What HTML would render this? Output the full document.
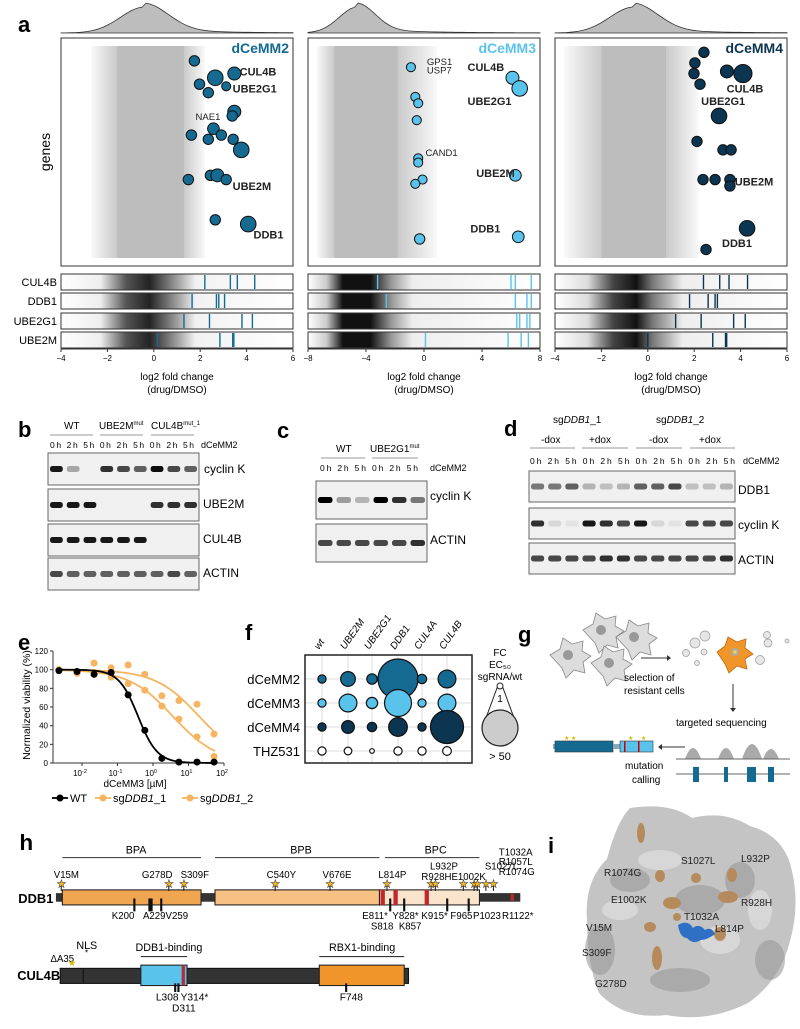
<!DOCTYPE html>
<html><head><meta charset="utf-8"><style>
body{margin:0;background:#fff;width:800px;height:1024px;overflow:hidden;font-family:"Liberation Sans",Arial,sans-serif}
svg text{font-family:"Liberation Sans",Arial,sans-serif}
</style></head><body>
<svg id="fig" width="800" height="1024" viewBox="0 0 800 1024" xmlns="http://www.w3.org/2000/svg">
<defs>
<linearGradient id="bc1" x1="0" x2="1"><stop offset="0" stop-color="#fff"/><stop offset=".17" stop-color="#eee"/><stop offset=".28" stop-color="#555"/><stop offset=".38" stop-color="#222"/><stop offset=".48" stop-color="#888"/><stop offset=".58" stop-color="#f2f2f2"/><stop offset="1" stop-color="#fff"/></linearGradient>
<linearGradient id="bc2" x1="0" x2="1"><stop offset="0" stop-color="#fff"/><stop offset=".08" stop-color="#ccc"/><stop offset=".15" stop-color="#111"/><stop offset=".27" stop-color="#111"/><stop offset=".36" stop-color="#999"/><stop offset=".45" stop-color="#eee"/><stop offset="1" stop-color="#fff"/></linearGradient>
<linearGradient id="bc3" x1="0" x2="1"><stop offset="0" stop-color="#fff"/><stop offset=".14" stop-color="#ddd"/><stop offset=".25" stop-color="#444"/><stop offset=".35" stop-color="#111"/><stop offset=".42" stop-color="#777"/><stop offset=".55" stop-color="#eee"/><stop offset="1" stop-color="#fff"/></linearGradient>
<linearGradient id="cloudL" x1="0" x2="1"><stop offset="0" stop-color="#c4c4c4" stop-opacity="0.1"/><stop offset="1" stop-color="#c4c4c4" stop-opacity="0.9"/></linearGradient>
<linearGradient id="cloudR" x1="0" x2="1"><stop offset="0" stop-color="#c4c4c4" stop-opacity="0.9"/><stop offset="1" stop-color="#c4c4c4" stop-opacity="0.1"/></linearGradient>
</defs>
<g id="panelA"></g>
<text x="18" y="32" font-size="22" font-weight="bold">a</text>

<g>
<text x="18" y="437" font-size="22" font-weight="bold">b</text>
<text x="64" y="429" font-size="10">WT</text><text x="99" y="429" font-size="10">UBE2M<tspan font-size="6" dy="-4">mut</tspan></text><text x="151" y="429" font-size="10">CUL4B<tspan font-size="6" dy="-4">mut_1</tspan></text>
<line x1="50" y1="435" x2="93" y2="435" stroke="#999"/><line x1="100" y1="435" x2="143" y2="435" stroke="#999"/><line x1="151" y1="435" x2="194" y2="435" stroke="#999"/>
<text x="50" y="448" font-size="8.5" textLength="144">0h 2h 5h 0h 2h 5h 0h 2h 5h</text><text x="201" y="448" font-size="9">dCeMM2</text>
<g id="blotB"></g>
<text x="204" y="473" font-size="12">cyclin K</text><text x="203" y="508" font-size="12">UBE2M</text><text x="203" y="543" font-size="12">CUL4B</text><text x="203" y="577" font-size="12">ACTIN</text>
</g>
<g>
<text x="277" y="438" font-size="22" font-weight="bold">c</text>
<text x="336" y="452" font-size="10">WT</text><text x="370" y="452" font-size="10">UBE2G1<tspan font-size="6" dy="-4">mut</tspan></text>
<line x1="321" y1="458" x2="365" y2="458" stroke="#999"/><line x1="372" y1="458" x2="418" y2="458" stroke="#999"/>
<text x="320" y="471" font-size="8.5" textLength="98">0h 2h 5h 0h 2h 5h</text><text x="430" y="471" font-size="9">dCeMM2</text>
<g id="blotC"></g>
<text x="430" y="500" font-size="12">cyclin K</text><text x="430" y="544" font-size="12">ACTIN</text>
</g>
<g>
<text x="504" y="436" font-size="22" font-weight="bold">d</text>
<text x="553" y="423" font-size="10">sg<tspan font-style="italic">DDB1</tspan>_1</text><text x="656" y="423" font-size="10">sg<tspan font-style="italic">DDB1</tspan>_2</text>
<text x="541" y="443" font-size="10">-dox</text><text x="589" y="443" font-size="10">+dox</text><text x="649" y="443" font-size="10">-dox</text><text x="699" y="443" font-size="10">+dox</text>
<line x1="530" y1="448" x2="575" y2="448" stroke="#999"/><line x1="582" y1="448" x2="628" y2="448" stroke="#999"/><line x1="636" y1="448" x2="682" y2="448" stroke="#999"/><line x1="690" y1="448" x2="735" y2="448" stroke="#999"/>
<text x="530" y="464" font-size="8.5" textLength="205">0h 2h 5h 0h 2h 5h 0h 2h 5h 0h 2h 5h</text><text x="743" y="464" font-size="9">dCeMM2</text>
<g id="blotD"></g>
<text x="738" y="494" font-size="12">DDB1</text><text x="738" y="529" font-size="12">cyclin K</text><text x="738" y="564" font-size="12">ACTIN</text>
</g>
<g id="panelE">
<text x="18" y="650" font-size="22" font-weight="bold">e</text>
</g>
<g id="panelF">
<text x="245" y="640" font-size="22" font-weight="bold">f</text>
</g>
<g>
<text x="518" y="642" font-size="22" font-weight="bold">g</text>
<g fill="#ddd" stroke="#888" stroke-width="0.8">
<path d="M550,655 l10,-6 l3,-11 l9,6 l11,-3 l-1,10 l9,5 l-8,6 l2,11 l-11,-3 l-8,8 l-4,-10 z"/>
<path d="M583,630 l10,-6 l3,-11 l9,6 l11,-3 l-1,10 l9,5 l-8,6 l2,11 l-11,-3 l-8,8 l-4,-10 z"/>
<path d="M616,637 l10,-6 l3,-11 l9,6 l11,-3 l-1,10 l9,5 l-8,6 l2,11 l-11,-3 l-8,8 l-4,-10 z"/>
<path d="M591,663 l10,-6 l3,-11 l9,6 l11,-3 l-1,10 l9,5 l-8,6 l2,11 l-11,-3 l-8,8 l-4,-10 z"/>
</g>
<g fill="#999"><circle cx="568" cy="655" r="5"/><circle cx="601" cy="630" r="5"/><circle cx="634" cy="637" r="5"/><circle cx="609" cy="663" r="5"/></g>
<line x1="641" y1="658" x2="667" y2="658" stroke="#333"/><path d="M667,655 l4,3 l-4,3z" fill="#333"/>
<g fill="#e6e6e6" stroke="#999" stroke-width=".7"><circle cx="695" cy="643" r="5"/><circle cx="705" cy="636" r="5"/><circle cx="686" cy="653" r="3.5"/><circle cx="704" cy="652" r="3"/><circle cx="697" cy="663" r="2.5"/><circle cx="760" cy="660" r="4.5"/><circle cx="768" cy="643" r="4"/><circle cx="767" cy="635" r="3.5"/><circle cx="787" cy="641" r="2"/></g>
<path d="M717,652 l8,-6 l3,-9 l9,5 l9,-3 l-1,9 l8,6 l-8,5 l2,10 l-10,-3 l-8,7 l-4,-9 z" fill="#f0952a" stroke="#c06a10" stroke-width=".8"/>
<circle cx="735" cy="652" r="4" fill="#aaa"/><circle cx="735" cy="652" r="1.7" fill="#f6d43c"/>
<text x="624" y="681" font-size="10">selection of</text><text x="624" y="694" font-size="10">resistant cells</text>
<line x1="733" y1="684" x2="733" y2="708" stroke="#333"/><path d="M730,708 l3,4 l3,-4z" fill="#333"/>
<text x="676" y="726" font-size="10">targeted sequencing</text>
<g fill="#aaa"><path d="M685,759 q8,-22 16,0z"/><path d="M718,759 q8,-22 16,0z"/><path d="M742,759 q10,-30 20,0z"/><path d="M763,759 q8,-20 16,0z"/></g>
<line x1="676" y1="759" x2="790" y2="759" stroke="#666"/>
<line x1="676" y1="774" x2="790" y2="774" stroke="#666"/>
<g fill="#156a92"><rect x="693" y="767" width="6" height="15"/><rect x="724" y="767" width="4" height="15"/><rect x="747" y="767" width="9" height="15"/><rect x="768" y="767" width="6" height="15"/></g>
<line x1="685" y1="747" x2="662" y2="747" stroke="#333"/><path d="M662,744 l-4,3 l4,3z" fill="#333"/>
<rect x="553" y="744" width="3" height="5" fill="#8ab"/>
<rect x="555" y="741" width="58" height="11" fill="#156a92" stroke="#333" stroke-width=".6"/>
<rect x="613" y="744" width="7" height="5" fill="#8ab"/>
<rect x="620" y="741" width="33" height="11" fill="#5ac3ec" stroke="#333" stroke-width=".6"/>
<rect x="624" y="741" width="1.5" height="11" fill="#c00"/><rect x="638" y="741" width="1.5" height="11" fill="#c00"/>
<text x="564" y="740" font-size="6" fill="#d8b800">★ ★</text><text x="628" y="740" font-size="6" fill="#d8b800">★</text><text x="641" y="740" font-size="6" fill="#d8b800">★</text>
<text x="625" y="769" font-size="10">mutation</text><text x="632" y="783" font-size="10">calling</text>
</g>
<g id="panelH" transform="matrix(1.075,0,0,1.075,0,-61.5)">
<text x="18" y="848" font-size="21" font-weight="bold">h</text>
<line x1="58" y1="855" x2="187" y2="855" stroke="#333"/><line x1="200" y1="855" x2="353" y2="855" stroke="#333"/><line x1="358" y1="855" x2="446" y2="855" stroke="#333"/>
<text x="117" y="851" font-size="10">BPA</text><text x="270" y="851" font-size="10">BPB</text><text x="395" y="851" font-size="10">BPC</text>
<rect x="52" y="888" width="432" height="8" fill="#333"/>
<rect x="58" y="885" width="129" height="14" fill="#f0a650" stroke="#222"/>
<rect x="200" y="885" width="153" height="14" fill="#f6c182" stroke="#222"/>
<rect x="353" y="885" width="93" height="14" fill="#fbe4cc" stroke="#222"/>
<g fill="#c0282d"><rect x="354" y="885" width="4" height="14"/><rect x="366" y="885" width="4" height="14"/><rect x="395" y="885" width="4" height="14"/><rect x="475" y="889" width="3" height="6"/></g>
<text x="17" y="897" font-size="12" font-weight="bold">DDB1</text>
<g id="ddbStars"></g>
<g font-size="9">
<text x="50" y="874">V15M</text><text x="132" y="874">G278D</text><text x="168" y="874">S309F</text><text x="248" y="874">C540Y</text><text x="300" y="874">V676E</text><text x="352" y="874">L814P</text>
<text x="400" y="866">L932P</text><text x="392" y="876">R928HE1002K</text><text x="451" y="866">S1027L</text>
<text x="464" y="853">T1032A</text><text x="464" y="862">R1057L</text><text x="464" y="871">R1074G</text>
<text x="104" y="912">K200</text><text x="133" y="912">A229</text><text x="154" y="912">V259</text>
<text x="337" y="912">E811*</text><text x="365" y="912">Y828*</text><text x="392" y="912">K915*</text><text x="419" y="912">F965</text><text x="440" y="912">P1023</text><text x="467" y="912">R1122*</text>
<text x="345" y="922">S818</text><text x="371" y="922">K857</text>
</g>
<line x1="131" y1="947" x2="174" y2="947" stroke="#333"/><line x1="297" y1="947" x2="376" y2="947" stroke="#333"/>
<text x="71" y="940" font-size="10">NLS</text><text x="79" y="946" font-size="8">*</text><text x="126" y="942" font-size="10">DDB1-binding</text><text x="306" y="942" font-size="10">RBX1-binding</text>
<text x="47" y="952" font-size="9">ΔA35</text>
<rect x="56" y="958" width="324" height="14" fill="#333" stroke="#111"/>
<rect x="77" y="958" width="1" height="14" fill="#111"/>
<rect x="131" y="955" width="43" height="19" fill="#5ac3ec" stroke="#222"/><rect x="169" y="955" width="3" height="19" fill="#c0282d"/>
<rect x="297" y="955" width="79" height="19" fill="#f0952a" stroke="#222"/>
<text x="63" y="956" font-size="9" fill="#d8b800">★</text>
<rect x="162" y="972" width="2" height="8" fill="#111"/><rect x="165" y="972" width="2" height="8" fill="#111"/><rect x="321" y="972" width="2" height="8" fill="#111"/>
<text x="145" y="988" font-size="9.5">L308</text><text x="168" y="988" font-size="9.5">Y314*</text><text x="160" y="998" font-size="9.5">D311</text><text x="316" y="988" font-size="9.5">F748</text>
<text x="16" y="969" font-size="12" font-weight="bold">CUL4B</text>
</g>
<g>
<path d="M630,808 q40,-6 62,10 q32,-8 58,8 q35,10 42,45 q8,35 -2,70 q-10,40 -42,62 q-40,20 -82,12 q-42,5 -67,-22 q-12,-30 -12,-72 q-3,-40 20,-62 q10,-38 23,-51z" fill="#c4c4c4"/>
<g fill="#9a9a9a" opacity=".6"><ellipse cx="630" cy="880" rx="20" ry="12"/><ellipse cx="700" cy="900" rx="25" ry="15"/><ellipse cx="600" cy="950" rx="15" ry="25"/><ellipse cx="740" cy="880" rx="15" ry="18"/><ellipse cx="680" cy="980" rx="30" ry="12"/><ellipse cx="770" cy="960" rx="15" ry="20"/></g>
<g fill="#dcdcdc" opacity=".8"><ellipse cx="660" cy="860" rx="22" ry="10"/><ellipse cx="620" cy="910" rx="18" ry="10"/><ellipse cx="720" cy="940" rx="20" ry="14"/><ellipse cx="760" cy="910" rx="12" ry="20"/></g>
<g fill="#b58a5c"><ellipse cx="641" cy="833" rx="4" ry="10"/><ellipse cx="660" cy="876" rx="5" ry="6"/><ellipse cx="696" cy="878" rx="5" ry="5"/><ellipse cx="732" cy="875" rx="5" ry="7"/><ellipse cx="728" cy="897" rx="10" ry="6"/><ellipse cx="672" cy="903" rx="9" ry="6"/><ellipse cx="677" cy="917" rx="4" ry="4"/><ellipse cx="650" cy="927" rx="6" ry="5"/><ellipse cx="657" cy="958" rx="5" ry="12"/><ellipse cx="720" cy="934" rx="6" ry="7"/></g>
<path d="M678,925 q10,-6 15,3 q6,-5 12,2 q6,-4 10,4 q-8,6 -14,6 q-8,5 -14,-2 q-7,0 -9,-13z" fill="#2f6fc4"/>
<g font-size="10" fill="#222">
<text x="604" y="876">R1074G</text><text x="681" y="864">S1027L</text><text x="741" y="862">L932P</text>
<text x="611" y="903">E1002K</text><text x="684" y="920">T1032A</text><text x="741" y="906">R928H</text>
<text x="586" y="931">V15M</text><text x="715" y="932">L814P</text><text x="582" y="956">S309F</text><text x="595" y="987">G278D</text>
</g>
<text x="548" y="853" font-size="22" font-weight="bold">i</text>
</g>
</svg>
<script>
var aTitles=["dCeMM2","dCeMM3","dCeMM4"];
var aColors=["#156a92","#5ac3ec","#0b3550"];
var aDomains=[[-4,6],[-8,8],[-4,6]];
var aTicks=[[-4,-2,0,2,4,6],[-8,-4,0,4,8],[-4,-2,0,2,4,6]];
var aDensityPeak=[-0.4,-4.6,-0.6];
var aCloudCore=[[-1.6,1.3],[-6.2,-1.8],[-2.0,0.8]];
var aCloudSpread=[[-2.7,2.2],[-7.4,0.9],[-3.6,2.2]];
var hitLfc1=[1.75,2.65,3.47,1.97,3.12,2.35,3.47,3.38,2.57,2.91,1.62,2.35,3.42,3.77,2.44,2.74,3.12,1.49,2.65,4.07];
var hitRank1=[.07,.15,.13,.18,.19,.22,.31,.33,.39,.42,.42,.44,.44,.49,.61,.61,.63,.63,.82,.84];
var hitSize1=[4,6,5,4,3.5,4,5,4,4.5,4,4,4,4,6,4,5,4,4,4,6];
var hitLfc2=[-0.9,6.1,6.6,-0.6,-0.4,-0.5,-0.4,-0.4,-0.1,-0.6,6.3,6.5,-0.3];
var hitRank2=[.10,.15,.20,.24,.27,.35,.53,.55,.63,.65,.61,.90,.91];
var hitSize2=[3.5,5,6,3.5,3.5,3.5,3.5,3.5,3.5,3.5,4.5,4.5,4];
var hitLfc3=[2.42,2.03,1.99,3.41,4.1,2.25,3.07,2.12,3.24,3.59,2.38,2.9,3.54,3.54,4.28,2.51];
var hitRank3=[.03,.08,.13,.12,.13,.18,.33,.45,.49,.49,.63,.63,.63,.66,.86,.96];
var hitSize3=[4,4,4,5,7,4,6,4,4,4,4,4,4,4,6,4];
var hitLfc=[hitLfc1,hitLfc2,hitLfc3],hitRank=[hitRank1,hitRank2,hitRank3],hitSize=[hitSize1,hitSize2,hitSize3];
var bcGenes=["CUL4B","DDB1","UBE2G1","UBE2M"];
var bcLines=[
 [[2.2,3.3,3.6,4.35],[1.65,2.7,2.8,3.05],[1.3,2.4,3.8,4.25],[0.15,2.85,3.4,3.45]],
 [[-3.2,6.0,6.3,7.4],[-2.6,6.3,7.1,7.4],[6.4,6.6,7.1,7.3],[0.1,5.8,6.7,7.2]],
 [[2.4,3.1,3.5,4.3],[1.8,2.6,2.9,3.0],[1.2,2.3,3.7,4.2],[0.0,2.8,3.35,3.4]]];
var aLabels=[
 [["CUL4B",3.7,.12,true],["UBE2G1",3.4,.2,true],["NAE1",1.8,.33,false],["UBE2M",3.4,.66,true],["DDB1",4.3,.89,true]],
 [["CUL4B",3.0,.1,true],["GPS1",0.2,.07,false],["USP7",0.2,.11,false],["UBE2G1",3.0,.26,true],["CAND1",0.1,.5,false],["UBE2M",3.6,.6,true],["DDB1",3.2,.86,true]],
 [["CUL4B",3.4,.2,true],["UBE2G1",2.3,.26,true],["UBE2M",3.75,.64,true],["DDB1",3.2,.93,true]]];

var NS="http://www.w3.org/2000/svg";
function el(tag,attrs,parent){var e=document.createElementNS(NS,tag);for(var k in attrs)e.setAttribute(k,attrs[k]);parent.appendChild(e);return e;}
var A=document.getElementById("panelA");
var boxX=[61,308,555],boxW=232,plotTop=38,plotBot=266;
for(var p=0;p<3;p++){
 (function(p){
 var d=aDomains[p],x0=boxX[p];
 function sx(v){return x0+(v-d[0])/(d[1]-d[0])*boxW;}
 function sy(r){return plotTop+8+r*(plotBot-plotTop-16);}
 var g=el("g",{},A);
 
 
 var pk=sx(aDensityPeak[p]),dp="M"+x0+",33";
 for(var i=0;i<=60;i++){var xx=x0+i*boxW/60;var z=(xx-pk)/(p==1?18:24);var hh=26*Math.exp(-z*z/2)+(xx>pk?4*Math.exp(-(xx-pk)/60):0);dp+=" L"+xx+","+(33-hh);}
 dp+=" L"+(x0+boxW)+",33 Z";
 var den=el("path",{d:dp,fill:"#bdbdbd",stroke:"#333","stroke-width":"0.8"},g);
 
 
 el("rect",{x:x0,y:plotTop,width:boxW,height:plotBot-plotTop,fill:"#fff",stroke:"#333","stroke-width":"1"},g);
 var c=aCloudCore[p],s=aCloudSpread[p],cy0=plotTop+8,ch=plotBot-plotTop-16;
 el("rect",{x:sx(s[0]),y:cy0,width:sx(c[0])-sx(s[0]),height:ch,fill:"url(#cloudL)"},g);
 el("rect",{x:sx(c[1]),y:cy0,width:sx(s[1])-sx(c[1]),height:ch,fill:"url(#cloudR)"},g);
 var cl=el("rect",{x:sx(c[0]),y:cy0,width:sx(c[1])-sx(c[0]),height:ch,fill:"#bdbdbd"},g);
 
 
 for(var i=0;i<hitLfc[p].length;i++){
  var h=el("circle",{cx:sx(hitLfc[p][i]),cy:sy(hitRank[p][i]),r:hitSize[p][i]*1.3,fill:aColors[p],stroke:"#111","stroke-width":"1"},g);
  
  
 }
 aLabels[p].forEach(function(L){var t=el("text",{x:sx(L[1]),y:sy(L[2])+4,"font-size":L[3]?11:9.5,"font-weight":L[3]?"bold":"normal",fill:"#222"},g);t.textContent=L[0];});
 var tt=el("text",{x:x0+boxW-4,y:plotTop+15,"font-size":14,"font-weight":"bold",fill:aColors[p],"text-anchor":"end"},g);tt.textContent=aTitles[p];
 
 
 var rowsY=[274,293,313,332];
 for(var r=0;r<4;r++){
  var br=el("rect",{x:x0,y:rowsY[r],width:boxW,height:16,fill:"url(#bc"+(p+1)+")",stroke:"#333","stroke-width":"1"},g);
  
  
  bcLines[p][r].forEach(function(v){var ln=el("line",{x1:sx(v),x2:sx(v),y1:rowsY[r]+1,y2:rowsY[r]+15,stroke:aColors[p],"stroke-width":"1.4"},g);});
  if(p==0){var gl=el("text",{x:57,y:rowsY[r]+12,"font-size":11,"text-anchor":"end"},g);gl.textContent=bcGenes[r];}
 }
 el("line",{x1:x0,x2:x0+boxW,y1:349,y2:349,stroke:"#333"},g);
 aTicks[p].forEach(function(v){el("line",{x1:sx(v),x2:sx(v),y1:349,y2:352,stroke:"#333"},g);var t=el("text",{x:sx(v),y:361,"font-size":8,"text-anchor":"middle"},g);t.textContent=(v<0?"\u2212"+(-v):v);});
 var xl=el("text",{x:x0+boxW/2,y:380,"font-size":10,"text-anchor":"middle"},g);xl.textContent="log2 fold change";
 var xl2=el("text",{x:x0+boxW/2,y:393,"font-size":10,"text-anchor":"middle"},g);xl2.textContent="(drug/DMSO)";
 })(p);
}
var gy=el("text",{x:50,y:152,"font-size":14,"text-anchor":"middle",transform:"rotate(-90 50 152)"},A);gy.textContent="genes";



var blotB=[[.9,.3,0,.8,.7,.6,.95,.7,.6],[.9,.9,.9,0,0,0,.8,.8,.8],[.9,.9,.9,.9,.9,.9,0,0,0],[.7,.6,.6,.6,.6,.6,.6,.7,.6]];
var blotC=[[1,.35,.25,1,.8,.5],[.7,.7,.7,.7,.7,.8]];
var blotD=[[.5,.5,.6,.25,.2,.25,.6,.6,.7,.2,.2,.25],[.8,.1,.05,.9,.8,.7,.9,.1,.05,.7,.7,.7],[.7,.7,.7,.7,.8,.8,.7,.7,.7,.7,.7,.8]];
function drawBlot(id,data,x0,w,ys,h){
 var g=document.getElementById(id);var n=data[0].length,lw=w/n;
 data.forEach(function(row,r){
  var bx=el("rect",{x:x0,y:ys[r],width:w,height:h,fill:"#f0f0f0",stroke:"#666","stroke-width":"1"},g);
  
  
  row.forEach(function(v,i){if(v>0){var b=el("rect",{x:x0+i*lw+2,y:ys[r]+h/2-3,width:lw-4,height:6,rx:2.5,fill:"#000","fill-opacity":v},g);}});
 });
}
drawBlot("blotB",blotB,48,151,[453,489,524,558],32);
drawBlot("blotC",blotC,316,111,[481,524],38);
drawBlot("blotD",blotD,529,206,[471,508,543],31);

var eLogX=[-2.65,-2.14,-1.66,-1.18,-0.70,-0.23,0.25,0.73,1.24,1.72];
var eWT=[99,98,95,97,73,35,5,1,1,1];
var eSg1=[100,98,107,102,105,95,72,67,63,31];
var eSg2=[100,96,97,92,85,78,61,47,28,7];
var eTicks=[-2,-1,0,1,2];
var eYTicks=[0,20,40,60,80,100,120];
var E=document.getElementById("panelE");
function ex(v){return 82+(v+2)*35.5;}
function ey(v){return 763-v/120*112;}
el("line",{x1:53,x2:53,y1:651,y2:763,stroke:"#333"},E);el("line",{x1:53,x2:224,y1:763,y2:763,stroke:"#333"},E);
eYTicks.forEach(function(v){el("line",{x1:50,x2:53,y1:ey(v),y2:ey(v),stroke:"#333"},E);var t=el("text",{x:48,y:ey(v)+3,"font-size":8,"text-anchor":"end"},E);t.textContent=v;});
eTicks.forEach(function(v){el("line",{x1:ex(v),x2:ex(v),y1:763,y2:766,stroke:"#333"},E);var t=el("text",{x:ex(v)-2,y:776,"font-size":8,"text-anchor":"middle"},E);t.textContent="10";var s=el("tspan",{"font-size":5.5,dy:-3},t);s.textContent=v;});
var yt=el("text",{x:30,y:705,"font-size":10.5,"text-anchor":"middle",transform:"rotate(-90 30 705)"},E);yt.textContent="Normalized viability (%)";
var xt=el("text",{x:135,y:787,"font-size":10,"text-anchor":"middle"},E);xt.textContent="dCeMM3 [µM]";
function hill(x,tp,ic,n){return tp/(1+Math.pow(10,(x-ic)*n));}
function fitIC(ys){var best=0,bi=0,be=1e9;for(var ic=-2;ic<3;ic+=0.02){for(var n=0.5;n<3;n+=0.1){var e=0;for(var i=0;i<ys.length;i++){var r=hill(eLogX[i],100,ic,n)-ys[i];e+=r*r;}if(e<be){be=e;bi=ic;best=n;}}}return [bi,best];}
[[eSg1,"#f6b460"],[eSg2,"#f6b460"],[eWT,"#000"]].forEach(function(s){
 var f=fitIC(s[0]);var d="";
 for(var x=-2.7;x<=1.75;x+=0.05){d+=(d?" L":"M")+ex(x)+","+ey(hill(x,100,f[0],f[1]));}
 var pl=el("path",{d:d,fill:"none",stroke:s[1],"stroke-width":"1.8"},E);
 
 
 s[0].forEach(function(v,i){var c=el("circle",{cx:ex(eLogX[i]),cy:ey(v),r:3.5,fill:s[1]},E);});
});
var lg=[["WT","#000",60],["sg","#f6b460",103,"DDB1","_1"],["sg","#f6b460",190,"DDB1","_2"]];
lg.forEach(function(l){el("line",{x1:l[2]-8,x2:l[2]+8,y1:798,y2:798,stroke:l[1],"stroke-width":1.8},E);el("circle",{cx:l[2],cy:798,r:3.5,fill:l[1]},E);var t=el("text",{x:l[2]+10,y:802,"font-size":11},E);t.textContent=l[0];if(l[3]){var ti=el("tspan",{"font-style":"italic"},t);ti.textContent=l[3];var t2=el("tspan",{},t);t2.textContent=l[4];}});

var fCols=["wt","UBE2M","UBE2G1","DDB1","CUL4A","CUL4B"];
var fRows=["dCeMM2","dCeMM3","dCeMM4","THZ531"];
var fRowColors=["#156a92","#5ac3ec","#0b3550","#fff"];
var fFC=[[1,5,2,50,1.5,8],[1,8,2.5,21,1,8],[1,3.5,1.5,9,1,33],[1,0.8,0.1,1,1,1.2]];
var F=document.getElementById("panelF");
var fColX=[322,348,372,398,422,447];
function fx(i){return fColX[i];}
function fy(j){return 679+j*24;}
function fr(v){return 1.5+Math.sqrt(v/50)*18.5;}
el("rect",{x:305,y:655,width:167,height:108,fill:"#fff",stroke:"#222","stroke-width":"1.5"},F);
fCols.forEach(function(c,i){el("line",{x1:fx(i),x2:fx(i),y1:656,y2:762,stroke:"#ddd"},F);var t=el("text",{x:fx(i)-3,y:650,"font-size":10,"font-style":"italic",transform:"rotate(-55 "+(fx(i)-3)+" 650)"},F);t.textContent=c;});
fRows.forEach(function(r,j){el("line",{x1:306,x2:471,y1:fy(j),y2:fy(j),stroke:"#ddd"},F);var t=el("text",{x:300,y:fy(j)+5,"font-size":13,"text-anchor":"end"},F);t.textContent=r;
 fFC[j].forEach(function(v,i){var c=el("circle",{cx:fx(i),cy:fy(j),r:fr(v),fill:fRowColors[j],stroke:"#111","stroke-width":"1.2"},F);});});
var lt=["FC","EC\u2085\u2080","sgRNA/wt"];lt.forEach(function(s,i){var t=el("text",{x:500,y:656+i*12,"font-size":10,"text-anchor":"middle"},F);t.textContent=s;});
el("path",{d:"M497,688 L483,726 L517,726 L503,688Z",fill:"#fff",stroke:"#222"},F);
el("circle",{cx:500,cy:686,r:3,fill:"#fff",stroke:"#222"},F);
var one=el("text",{x:500,y:702,"font-size":10,"text-anchor":"middle"},F);one.textContent="1";
el("circle",{cx:500,cy:728,r:18,fill:"#ccc",stroke:"#222","stroke-width":"1.2"},F);
var f50=el("text",{x:500,y:760,"font-size":11,"text-anchor":"middle"},F);f50.textContent="> 50";

var starX=[57,157,171,256,307,360,401,405,431,441,444,452,459];
var S=document.getElementById("ddbStars");
starX.forEach(function(x){el("line",{x1:x,x2:x,y1:880,y2:886,stroke:"#222"},S);var t=el("text",{x:x,y:883,"font-size":10,"text-anchor":"middle",fill:"#f5b71f",stroke:"#222","stroke-width":"0.4"},S);t.textContent="★";});
var tickX=[125,139,141,150,363,376,416,436];
tickX.forEach(function(x){el("rect",{x:x-1,y:893,width:2,height:12,fill:"#111"},S);});
</script>
</body></html>
